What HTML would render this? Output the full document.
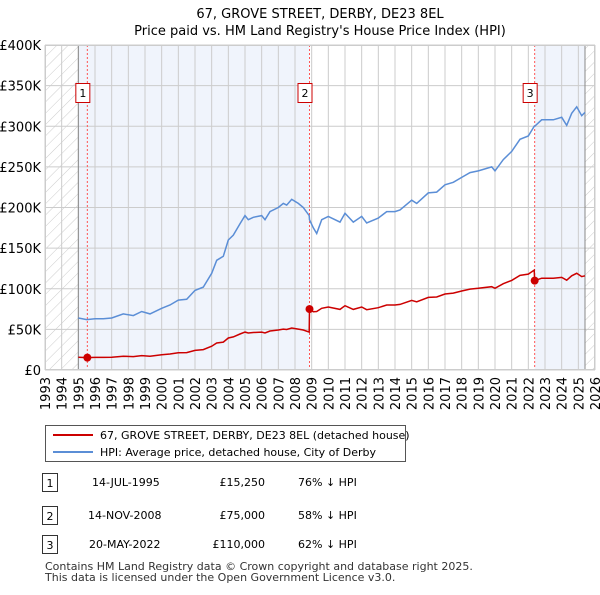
<!DOCTYPE html>
<html><head><meta charset="utf-8"><style>
body{margin:0;background:#fff;font-family:"Liberation Sans","DejaVu Sans",sans-serif;}
svg text{font-family:"DejaVu Sans","Liberation Sans",sans-serif;}
</style></head><body>
<svg id="chart" width="600" height="590" xmlns="http://www.w3.org/2000/svg">
<defs><pattern id="hatch" width="8" height="8" patternUnits="userSpaceOnUse" patternTransform="rotate(45)"><line x1="0" y1="0" x2="0" y2="8" stroke="#ccc" stroke-width="1"/></pattern></defs>
<text x="320" y="18" text-anchor="middle" font-size="13">67, GROVE STREET, DERBY, DE23 8EL</text>
<text x="320" y="35" text-anchor="middle" font-size="13">Price paid vs. HM Land Registry's House Price Index (HPI)</text>
<g id="plot"></g>
<g>
<rect x="45.5" y="425.5" width="360" height="36" fill="#fff" stroke="#555"/>
<line x1="53" y1="435" x2="93" y2="435" stroke="#cc0000" stroke-width="2"/>
<text x="100" y="439" font-size="11">67, GROVE STREET, DERBY, DE23 8EL (detached house)</text>
<line x1="53" y1="452" x2="93" y2="452" stroke="#5b8ed6" stroke-width="2"/>
<text x="100" y="456" font-size="11">HPI: Average price, detached house, City of Derby</text>
</g>
<g font-size="11">
<rect x="42.5" y="473.5" width="15" height="18" fill="#fff" stroke="#333"/><text x="50" y="487" text-anchor="middle">1</text>
<text x="92" y="486">14-JUL-1995</text><text x="265" y="486" text-anchor="end">£15,250</text><text x="298" y="486">76% ↓ HPI</text>
<rect x="42.5" y="506.5" width="15" height="18" fill="#fff" stroke="#333"/><text x="50" y="520" text-anchor="middle">2</text>
<text x="88" y="519">14-NOV-2008</text><text x="265" y="519" text-anchor="end">£75,000</text><text x="298" y="519">58% ↓ HPI</text>
<rect x="42.5" y="535.5" width="15" height="18" fill="#fff" stroke="#333"/><text x="50" y="549" text-anchor="middle">3</text>
<text x="89" y="548">20-MAY-2022</text><text x="265" y="548" text-anchor="end">£110,000</text><text x="298" y="548">62% ↓ HPI</text>
</g>
<text x="45" y="570" font-size="11" fill="#333">Contains HM Land Registry data © Crown copyright and database right 2025.</text>
<text x="45" y="581" font-size="11" fill="#333">This data is licensed under the Open Government Licence v3.0.</text>
</svg>
<script>
const dates=[1995.0,1995.5,1996.0,1996.5,1997.0,1997.7,1998.3,1998.8,1999.3,2000.0,2000.5,2001.0,2001.5,2002.0,2002.5,2003.0,2003.3,2003.7,2004.0,2004.3,2004.7,2005.0,2005.2,2005.5,2006.0,2006.2,2006.5,2007.0,2007.3,2007.5,2007.8,2008.2,2008.5,2008.85,2008.87,2009.1,2009.3,2009.6,2010.0,2010.7,2011.0,2011.5,2012.0,2012.3,2013.0,2013.5,2014.0,2014.3,2015.0,2015.3,2016.0,2016.5,2017.0,2017.5,2018.0,2018.5,2019.0,2019.8,2020.0,2020.5,2021.0,2021.5,2022.0,2022.35,2022.38,2022.8,2023.5,2024.0,2024.3,2024.6,2024.9,2025.2,2025.4];
const hpiValues=[64,62,63,63,64,69,67,72,69,76,80,86,87,98,102,119,135,140,160,166,180,190,185,188,190,185,195,200,205,203,210,205,200,190,185,175,168,185,189,182,193,182,189,181,187,195,195,197,209,205,218,219,228,231,237,243,245,250,245,259,269,284,288,300,300,308,308,311,301,316,324,313,317];
const priceValues=[15.7,15.25,15.5,15.5,15.7,17.0,16.5,17.7,17.0,18.7,19.7,21.2,21.4,24.1,25.1,29.3,33.2,34.4,39.4,40.8,44.3,46.7,45.5,46.2,46.7,45.5,48.0,49.2,50.4,49.9,51.7,50.4,49.2,46.7,75,71.8,72,75.9,77.5,74.6,79.1,74.6,77.5,74.2,76.7,80,80,80.8,85.7,84,89.4,89.8,93.5,94.7,97.2,99.6,100.5,102.5,100.5,106.2,110.3,116.4,118,123,110,113,113,114,110.5,116,119,115,116];
const saleDates=[1995.54,2008.87,2022.38];
const salePrices=[15.25,75,110];
const saleLabels=["1","2","3"];
const yTicks=[0,50,100,150,200,250,300,350,400];
const yTickLabels=["£0","£50K","£100K","£150K","£200K","£250K","£300K","£350K","£400K"];
const xYears=[1993,1994,1995,1996,1997,1998,1999,2000,2001,2002,2003,2004,2005,2006,2007,2008,2009,2010,2011,2012,2013,2014,2015,2016,2017,2018,2019,2020,2021,2022,2023,2024,2025,2026];

const X0=45,X1=595,Y0=370,Y1=45;
const xs=y=>X0+(y-1993)/(2026-1993)*(X1-X0);
const ys=v=>Y0-v/400*(Y0-Y1);
const NS="http://www.w3.org/2000/svg";
const g=document.getElementById('plot');
function mk(t,a){const e=document.createElementNS(NS,t);for(const k in a)e.setAttribute(k,a[k]);g.appendChild(e);return e;}
let e;
e=mk('rect',{x:X0,y:Y1,width:X1-X0,height:Y0-Y1,fill:'#fff'});


e=mk('rect',{x:xs(1995),y:Y1,width:xs(saleDates[1])-xs(1995),height:Y0-Y1,fill:'#f0f4fc'});


e=mk('rect',{x:xs(saleDates[2]),y:Y1,width:xs(2025.4)-xs(saleDates[2]),height:Y0-Y1,fill:'#f0f4fc'});


e=mk('rect',{x:X0,y:Y1,width:xs(1995)-X0,height:Y0-Y1,fill:'url(#hatch)'});


e=mk('rect',{x:xs(2025.4),y:Y1,width:X1-xs(2025.4),height:Y0-Y1,fill:'url(#hatch)'});


yTicks.forEach((v,i)=>{
 e=mk('line',{x1:X0,x2:X1,y1:ys(v),y2:ys(v),stroke:'#ccc','stroke-width':1});
 
 
 e=mk('text',{x:X0-4,y:ys(v)+5,'text-anchor':'end','font-size':13});
 e.textContent=yTickLabels[i];
 
 
});
xYears.forEach(yr=>{
 e=mk('line',{x1:xs(yr),x2:xs(yr),y1:Y1,y2:Y0,stroke:'#ccc','stroke-width':1});
 
 
 e=mk('text',{x:0,y:0,'text-anchor':'end','font-size':13,transform:`translate(${xs(yr)+5},${Y0+7}) rotate(-90)`});
 e.textContent=yr;
 
 
});
e=mk('line',{x1:xs(1995),x2:xs(1995),y1:Y1,y2:Y0,stroke:'#888'});


e=mk('line',{x1:xs(2025.4),x2:xs(2025.4),y1:Y1,y2:Y0,stroke:'#888'});


saleDates.forEach((d,i)=>{
 e=mk('line',{x1:xs(d),x2:xs(d),y1:Y1,y2:Y0,stroke:'#f55','stroke-width':1,'stroke-dasharray':'2,2'});
 
 
});
e=mk('path',{d:dates.map((d,i)=>(i?'L':'M')+xs(d).toFixed(1)+','+ys(hpiValues[i]).toFixed(1)).join(''),fill:'none',stroke:'#5b8ed6','stroke-width':1.5});


e=mk('path',{d:dates.map((d,i)=>(i?'L':'M')+xs(d).toFixed(1)+','+ys(priceValues[i]).toFixed(1)).join(''),fill:'none',stroke:'#cc0000','stroke-width':1.5});


saleDates.forEach((d,i)=>{
 e=mk('circle',{cx:xs(d),cy:ys(salePrices[i]),r:4,fill:'#cc0000'});
 
 
 e=mk('rect',{x:xs(d)-11.5,y:83.5,width:14,height:19,fill:'#fff',stroke:'#cc0000'});
 
 
 e=mk('text',{x:xs(d)-4.5,y:97,'text-anchor':'middle','font-size':11});
 e.textContent=saleLabels[i];
 
 
});
e=mk('rect',{x:X0+0.5,y:Y1+0.5,width:X1-X0-1,height:Y0-Y1-1,fill:'none',stroke:'#ccc'});


</script>
</body></html>
